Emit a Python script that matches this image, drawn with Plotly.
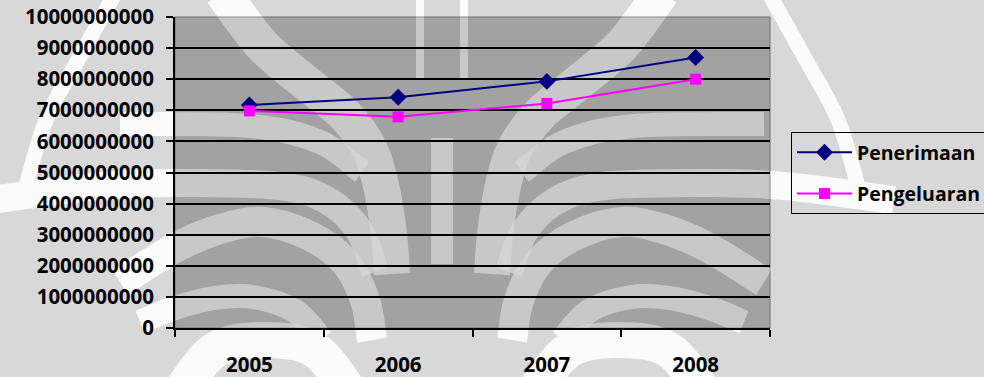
import plotly.graph_objects as go

years = ["2005", "2006", "2007", "2008"]
penerimaan = [7170000000, 7420000000, 7930000000, 8700000000]
pengeluaran = [6980000000, 6790000000, 7220000000, 8000000000]
y_ticks = [0, 1000000000, 2000000000, 3000000000, 4000000000, 5000000000,
           6000000000, 7000000000, 8000000000, 9000000000, 10000000000]

FONT = "Open Sans"
W, H = 984, 377
ML, MR, MT, MB = 175, 214, 17, 49
PW, PH = W - ML - MR, H - MT - MB
AXIS_X = 442  # symmetry line of the background emblem

x_pos = list(range(len(years)))


def to_paper(px, py):
    return (px - ML) / PW, (H - MB - py) / PH


def smooth_path(points):
    """Catmull-Rom spline through pixel points, as an SVG path in paper units."""
    pts = [to_paper(x, y) for x, y in points]
    d = f"M {pts[0][0]:.4f},{pts[0][1]:.4f}"
    for i in range(len(pts) - 1):
        p0 = pts[i - 1] if i > 0 else pts[i]
        p1, p2 = pts[i], pts[i + 1]
        p3 = pts[i + 2] if i + 2 < len(pts) else pts[i + 1]
        c1 = (p1[0] + (p2[0] - p0[0]) / 6, p1[1] + (p2[1] - p0[1]) / 6)
        c2 = (p2[0] - (p3[0] - p1[0]) / 6, p2[1] - (p3[1] - p1[1]) / 6)
        d += (f" C {c1[0]:.4f},{c1[1]:.4f} {c2[0]:.4f},{c2[1]:.4f}"
              f" {p2[0]:.4f},{p2[1]:.4f}")
    return d


def mirror(points):
    return [(2 * AXIS_X - x, y) for x, y in points]


# background emblem: light strokes of the left half, mirrored to the right
half_bands = [
    ([(222, -8), (262, 45), (305, 82), (345, 115), (370, 150), (382, 190),
      (389, 235), (392, 274)], 36),
    ([(420, -8), (420, 80)], 8),
    ([(120, 124), (250, 126), (320, 142), (362, 172)], 24),
    ([(-10, 200), (100, 186), (175, 183), (280, 186), (330, 202), (360, 232),
      (375, 272)], 28),
    ([(120, 282), (175, 248), (220, 229), (263, 222), (310, 236), (345, 262),
      (365, 300), (372, 340)], 30),
    ([(140, 322), (175, 308), (215, 298), (253, 297), (295, 311), (322, 340)], 24),
    ([(178, 395), (215, 350), (265, 340), (315, 350), (352, 395)], 36),
    ([(116, -8), (78, 60), (46, 120), (25, 190)], 15),
]
stroke_paths = []
for pts, width in half_bands:
    for p in (pts, mirror(pts)):
        stroke_paths.append((smooth_path(p), width))
stroke_paths.append((smooth_path([(AXIS_X, 138), (AXIS_X, 264)]), 22))


def emblem(color):
    return [dict(type="path", xref="paper", yref="paper", layer="below",
                 path=path, line=dict(color=color, width=width))
            for path, width in stroke_paths]


shapes = emblem("#fafafa")
# plot area tint and frame
shapes.append(dict(type="rect", xref="paper", yref="paper", layer="below",
                   x0=0, x1=1, y0=0, y1=1, fillcolor="rgba(0,0,0,0.25)",
                   line=dict(color="#6e6e6e", width=1)))
# second, faint pass lifts the emblem inside the tinted plot area
shapes += emblem("rgba(255,255,255,0.2)")

fig = go.Figure()
fig.add_trace(go.Scatter(
    x=x_pos, y=penerimaan, name="Penerimaan", mode="lines+markers",
    line=dict(color="#000080", width=2),
    marker=dict(symbol="diamond", size=13, color="#000080"),
    legendgroup="a",
))
fig.add_trace(go.Scatter(
    x=x_pos, y=pengeluaran, name="Pengeluaran", mode="lines+markers",
    line=dict(color="#ff00ff", width=2),
    marker=dict(symbol="square", size=11, color="#ff00ff"),
    legendgroup="b",
))

tick_font = dict(family=FONT, size=20.5, color="#000000", weight="bold")

fig.update_layout(
    width=W, height=H,
    margin=dict(l=ML, r=MR, t=MT, b=MB, autoexpand=False),
    paper_bgcolor="#d8d8d8",
    plot_bgcolor="rgba(0,0,0,0)",
    font=dict(family=FONT, size=20.5, color="#000000"),
    shapes=shapes,
    showlegend=True,
    legend=dict(
        x=(791 - ML) / PW, xanchor="left", y=(H - MB - 132) / PH, yanchor="top",
        bgcolor="rgba(0,0,0,0)", bordercolor="#000000", borderwidth=1,
        font=dict(family=FONT, size=19.5, color="#000000", weight="bold"),
        traceorder="grouped", tracegroupgap=13, itemwidth=55,
    ),
    xaxis=dict(
        range=[-0.5, len(years) - 0.5],
        tickvals=x_pos, ticktext=years,
        ticks="", showgrid=False, zeroline=False,
        showline=True, linecolor="#000000", linewidth=2,
        tickfont=tick_font, ticklabelstandoff=17,
        minor=dict(tickvals=[i - 0.5 for i in range(len(years) + 1)],
                   ticks="outside", ticklen=7, tickcolor="#000000", tickwidth=1.5,
                   showgrid=False),
        automargin=False, fixedrange=True,
    ),
    yaxis=dict(
        range=[0, 10000000000],
        tickvals=y_ticks, ticktext=[str(v) for v in y_ticks],
        ticks="outside", ticklen=7, tickcolor="#000000", tickwidth=1.5,
        showgrid=True, gridcolor="#000000", gridwidth=2,
        showline=True, linecolor="#000000", linewidth=2,
        zeroline=False, tickfont=tick_font, ticklabelstandoff=8,
        automargin=False, fixedrange=True,
    ),
)

fig.write_html("out.html")
